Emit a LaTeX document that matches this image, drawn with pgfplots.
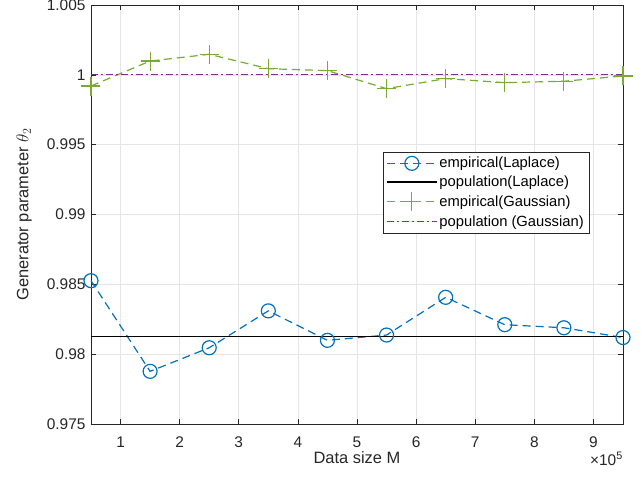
\documentclass[border=0pt]{standalone}
\usepackage{fontspec}
\setmainfont{Liberation Sans}
\usepackage{pgfplots}
\pgfplotsset{compat=1.18}
\definecolor{mblue}{RGB}{0,114,189}
\definecolor{mgreen}{RGB}{119,172,48}
\definecolor{mpurple}{RGB}{126,47,142}
\definecolor{axgray}{RGB}{38,38,38}
\begin{document}
\begin{tikzpicture}
\path[use as bounding box] (-91bp,-58bp) rectangle (551bp,424bp);
\begin{axis}[
  scale only axis, width=532bp, height=419bp,
  xmin=0.5, xmax=9.5, ymin=0.975, ymax=1.005,
  xtick={1,2,3,4,5,6,7,8,9},
  ytick={0.975,0.98,0.985,0.99,0.995,1,1.005},
  yticklabels={0.975,0.98,0.985,0.99,0.995,1,1.005},
  grid=major, major grid style={black!10, line width=0.6bp},
  tick align=inside, major tick length=5bp,
  axis line style={axgray, line width=0.6bp},
  every tick/.style={axgray, line width=0.6bp},
  ticklabel style={font=\fontsize{15.5}{18}\selectfont, text=axgray},
  xticklabel style={anchor=base, yshift=-23bp, inner sep=0pt, text depth=0pt},
  yticklabel style={xshift=-2bp},
  /pgf/number format/assume math mode=true,
  xlabel={Data size M},
  ylabel={Generator parameter $\theta_2$},
  xlabel style={font=\fontsize{16.5}{19}\selectfont, text=axgray, at={(rel axis cs:0.5,0)}, anchor=base, yshift=-39bp, inner sep=0pt},
  ylabel style={font=\fontsize{16.5}{19}\selectfont, text=axgray, at={(rel axis cs:0,0.5)}, anchor=center, yshift=67bp, inner sep=0pt},
  clip=false,
  legend style={at={(0.549,0.649)}, anchor=north west, draw=axgray,
    font=\fontsize{14.8}{17}\selectfont, cells={anchor=west}, row sep=2.4bp, inner sep=3bp},
  legend image code/.code={\draw[mark repeat=2,mark phase=2,#1] plot coordinates {(0bp,0bp) (25bp,0bp) (50bp,0bp)};},
]
\addplot[mblue, line width=1.2bp, dash pattern=on 8bp off 5bp, mark=o, mark size=7bp, mark options={solid}]
coordinates {(0.5,0.98526) (1.5,0.97877) (2.5,0.98046) (3.5,0.98310) (4.5,0.98099) (5.5,0.98137) (6.5,0.98407) (7.5,0.98211) (8.5,0.98189) (9.5,0.98119)};
\addlegendentry{empirical(Laplace)}
\addplot[black, line width=1.2bp] coordinates {(0.5,0.98129) (9.5,0.98129)};
\addlegendentry{population(Laplace)}
\addplot[mgreen, line width=1.2bp, dash pattern=on 8bp off 5bp, mark=+, mark size=9.5bp, mark options={solid}]
coordinates {(0.5,0.99920) (1.5,1.00099) (2.5,1.00147) (3.5,1.00044) (4.5,1.00030) (5.5,0.99901) (6.5,0.99973) (7.5,0.99944) (8.5,0.99954) (9.5,0.99992)};
\addlegendentry{empirical(Gaussian)}
\addplot[mpurple, line width=1.2bp, dash pattern=on 7bp off 3bp on 2bp off 3bp] coordinates {(0.5,1) (9.5,1)};
\addlegendentry{population (Gaussian)}
\node[anchor=base east, font=\fontsize{15.5}{18}\selectfont, text=axgray, inner sep=0pt] at (rel axis cs:1,0) [yshift=-41bp] {×10\textsuperscript{5}};
\end{axis}
\end{tikzpicture}
\end{document}
